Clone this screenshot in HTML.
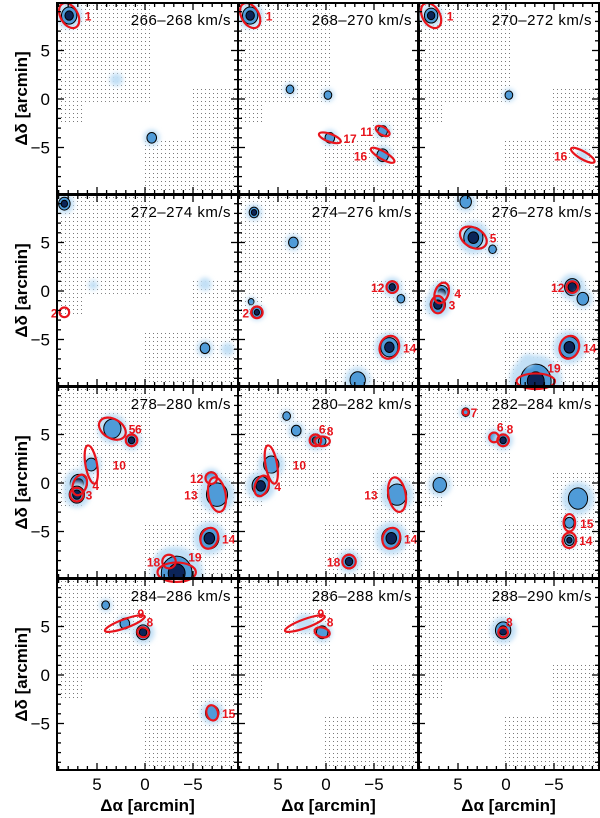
<!DOCTYPE html>
<html><head><meta charset="utf-8">
<style>
html,body{margin:0;padding:0;background:#fff;}
svg{display:block;font-family:"Liberation Sans",sans-serif;}
</style></head>
<body>
<svg id="fig" width="600" height="818" viewBox="0 0 600 818" xmlns="http://www.w3.org/2000/svg">
<defs>
<pattern id="dots" width="4" height="4" patternUnits="userSpaceOnUse"><rect x="1" y="1" width="1" height="1" fill="#7a7a7a"/></pattern>
<filter id="blur" x="-50%" y="-50%" width="200%" height="200%"><feGaussianBlur stdDeviation="2.5"/></filter>
</defs>
</svg>
<script>
// velocity ranges per panel
const velocities = ["266–268","268–270","270–272","272–274","274–276","276–278","278–280","280–282","282–284","284–286","286–288","288–290"];
// emission blobs: panel, dRA(arcmin), dDec(arcmin), size, level(1 faint,2 contour,3 core)
const blobPanel = [0,0,0, 1,1,1,1,1,1, 2,2,2, 3,3,3,3,3, 4,4,4,4,4,4,4,4, 5,5,5,5,5,5,5,5,5,5, 6,6,6,6,6,6,6,6,6,6, 7,7,7,7,7,7,7,7,7, 8,8,8,8,8,8,8, 9,9,9,9, 10,10, 11];
const blobRA    = [7.9,-0.7,3,  7.9,3.75,-0.2,-0.4,-5.9,-5.9,  7.8,-0.3,-8,  8.4,-6.25,-8.6,-6.25,5.4,  7.5,3.4,-6.9,-7.8,7.8,7.2,-6.6,-3.3,  4.2,3.4,1.4,6.7,7.1,-6.9,-8,-6.6,-3.1,-2.2,  3.4,1.4,5.6,6.9,7.1,-6.9,-7.5,-6.7,-2.5,-3.3,  4.1,3.1,1.1,0.4,5.7,6.8,-7.4,-6.8,-2.4,  4.2,1.25,0.3,6.9,-7.5,-6.6,-6.6,  4.1,2.1,0.2,-7,  2.2,0.4,  0.3];
const blobDec   = [8.6,-4,2,  8.6,1,0.4,-4,-3.3,-5.8,  8.6,0.4,-5.8,  9,-5.9,-6,0.7,0.6,  8.1,5,0.4,-0.8,-1.1,-2.2,-5.8,-9.2,  9.2,5.5,4.3,-0.2,-1.4,0.4,-0.8,-5.8,-9.3,-7.2,  5.6,4.4,1.9,-0.1,-1.2,0.5,-1.2,-5.7,-8.3,-9.3,  6.9,5.4,4.4,4.3,1.9,-0.3,-1.2,-5.7,-8.1,  7.3,4.7,4.4,-0.2,-1.6,-4.1,-5.9,  7.2,5.3,4.4,-3.9,  5.3,4.4,  4.6];
const blobLevel = [3,2,1,  3,2,2,2,2,2,  3,2,1,  3,2,1,1,1,  3,2,3,2,2,3,3,2,  2,3,2,3,3,3,2,3,3,1,  2,3,2,3,3,2,2,3,2,3,  2,2,3,2,2,3,2,3,3,  2,2,3,2,2,2,3,  2,2,3,2,  1,2,  3];
const blobSize  = [0.8,0.5,0.4, 0.8,0.4,0.4,0.5,0.5,0.6, 0.7,0.4,0.4, 0.6,0.5,0.4,0.4,0.3, 0.5,0.5,0.6,0.4,0.3,0.5,0.9,0.8, 0.6,1.0,0.4,0.7,0.8,0.8,0.6,1.0,1.6,0.4, 0.9,0.6,0.6,0.9,0.8,0.6,1.1,1.0,0.9,1.6, 0.4,0.5,0.6,0.4,0.8,0.9,1.0,1.0,0.7, 0.4,0.5,0.6,0.7,1.0,0.5,0.5, 0.4,0.5,0.7,0.7, 0.6,0.6, 0.8];
// catalogued sources (red ellipses)
const srcPanel = [0, 1,1,1,1, 2,2, 3, 4,4,4, 5,5,5,5,5,5, 6,6,6,6,6,6,6,6,6,6, 7,7,7,7,7,7,7, 8,8,8,8,8, 9,9,9, 10,10, 11];
const srcRA    = [7.9, 7.9,-0.4,-5.9,-5.9, 7.8,-8, 8.4, 7.2,-6.9,-6.6, 3.4,6.7,7.1,-6.9,-6.6,-3.1, 3.4,1.4,5.6,6.8,7.1,-6.9,-7.5,-6.7,-2.5,-3.3, 1.1,0.4,5.7,6.7,-7.4,-6.8,-2.4, 4.2,1.25,0.3,-6.6,-6.6, 2.1,0.2,-7, 2.2,0.4, 0.3];
const srcDec   = [8.6, 8.6,-4,-3.3,-5.8, 8.6,-5.8, -2.2, -2.2,0.4,-5.8, 5.5,-0.2,-1.4,0.4,-5.8,-9.3, 5.6,4.4,1.9,-0.2,-1.2,0.5,-1.2,-5.7,-8.1,-9.2, 4.4,4.3,1.9,-0.3,-1.2,-5.7,-8.1, 7.3,4.7,4.4,-4.1,-5.9, 5.3,4.4,-3.9, 5.3,4.4, 4.4];
const srcRx    = [0.9, 0.9,1.2,0.8,1.4, 0.9,1.4, 0.5, 0.6,0.6,1.0, 1.5,0.7,0.7,0.6,1.0,2.0, 1.5,0.6,0.6,0.7,0.7,0.6,0.9,0.9,0.7,2.0, 0.6,0.8,0.6,0.7,0.9,0.9,0.7, 0.3,0.5,0.6,0.6,0.7, 2.2,0.6,0.6, 2.2,0.8, 0.5];
const srcRy    = [1.4, 1.4,0.4,0.4,0.4, 1.4,0.4, 0.5, 0.6,0.6,1.2, 1.0,1.1,0.9,0.6,1.2,0.8, 1.0,0.6,2.0,1.1,0.7,0.6,1.8,1.1,0.7,1.0, 0.6,0.5,2.0,1.1,1.8,1.1,0.7, 0.3,0.5,0.6,0.9,0.8, 0.45,0.5,0.8, 0.45,0.5, 0.5];
const srcAng   = [-30, -30,20,30,30, -30,30, 0, 0,0,20, 30,20,0,0,20,0, 30,0,-10,20,0,0,-10,20,0,0, 0,0,-10,20,-10,20,0, 0,0,20,0,10, -20,15,-15, -20,15, 0];
const srcId    = ["1", "1","17","11","16", "1","16", "2", "2","12","14", "5","4","3","12","14","19", "5","6","10","4","3","12","13","14","18","19", "6","8","10","4","13","14","18", "7","6","8","15","14", "9","8","15", "9","8", "8"];
const srcSide  = ["r", "r","r","l","l", "r","l", "l", "l","l","r", "r","r","r","l","r","u", "r","u","r","r","r","l","l","r","l","u", "u","u","r","r","l","r","l", "r","u","u","r","r", "u","u","r", "u","u", "u"];
const yTicks = [-5,0,5];
const xTicks = [5,0,-5];

const NS = "http://www.w3.org/2000/svg";
const svg = document.getElementById("fig");
const colL = [57,238,418], rowT = [3,195,387,579], PW = 181, PH = 191;
const SX = 9.6, SY = 9.7;
function xPos(c, a){ return colL[c] + 88 - a*SX; }
function yPos(r, d){ return rowT[r] + 96 - d*SY; }
function mk(tag, attrs, parent){ const e=document.createElementNS(NS,tag); for(const k in attrs) e.setAttribute(k,attrs[k]); (parent||svg).appendChild(e); return e; }

const maskRects = [[9.6,9.9,-0.7,-0.3],[9.6,-0.3,6.5,-2.5],[-4.9,1.1,-9.6,-9.9],[0.3,-4.1,-4.9,-9.9]];

for(let p=0;p<12;p++){
  const c=p%3, r=Math.floor(p/3);
  const g = mk("g",{});
  
  
  const cp = mk("clipPath",{id:"cp"+p},g);
  mk("rect",{x:colL[c],y:rowT[r],width:PW,height:PH},cp);
  const inner = mk("g",{"clip-path":"url(#cp"+p+")"},g);
  maskRects.forEach(m=>{
    const x1=xPos(c,m[0]), x2=xPos(c,m[2]), y1=yPos(r,m[1]), y2=yPos(r,m[3]);
    const rr = mk("rect",{x:Math.min(x1,x2),y:Math.min(y1,y2),width:Math.abs(x2-x1),height:Math.abs(y2-y1),fill:"url(#dots)"},inner);
    
    
  });
  for(let i=0;i<blobPanel.length;i++){
    if(blobPanel[i]!==p) continue;
    const bx=xPos(c,blobRA[i]), by=yPos(r,blobDec[i]), s=blobSize[i];
    const bg = mk("g",{},inner);
    
    
    mk("ellipse",{cx:bx,cy:by,rx:s*SX*1.7,ry:s*SY*1.7,fill:"#c2e0f6",filter:"url(#blur)"},bg);
    if(blobLevel[i]>=2) mk("ellipse",{cx:bx,cy:by,rx:s*SX,ry:s*SY*1.1,fill:"#4f9bd8",stroke:"#000","stroke-width":1},bg);
    if(blobLevel[i]>=3) mk("ellipse",{cx:bx,cy:by,rx:s*SX*0.55,ry:s*SY*0.6,fill:"#0b2458",stroke:"#000","stroke-width":1},bg);
  }
  for(let i=0;i<srcPanel.length;i++){
    if(srcPanel[i]!==p) continue;
    const ex=xPos(c,srcRA[i]), ey=yPos(r,srcDec[i]);
    const rx=srcRx[i]*SX, ry=srcRy[i]*SY;
    const el = mk("ellipse",{cx:ex,cy:ey,rx:rx,ry:ry,fill:"none",stroke:"#e8141c","stroke-width":2.2,transform:`rotate(${srcAng[i]} ${ex} ${ey})`},g);
    
    
    let lx=ex+Math.max(rx,ry)+2, ly=ey+5, anchor="start";
    if(srcSide[i]==="l"){ lx=ex-Math.max(rx,ry)-2; anchor="end"; }
    if(srcSide[i]==="u"){ lx=ex+rx*0.6; ly=ey-ry-1; }
    const t = mk("text",{x:lx,y:ly,"font-size":12,"font-weight":"bold",fill:"#e8141c","text-anchor":anchor},g);
    t.textContent=srcId[i];
    
    
  }
  const vt = mk("text",{x:colL[c]+PW-7,y:rowT[r]+22,"font-size":15,fill:"#000","text-anchor":"end","letter-spacing":"0.5"},g);
  vt.textContent=velocities[p]+" km/s";
  
  
  const fr = mk("rect",{x:colL[c],y:rowT[r],width:PW,height:PH,fill:"none",stroke:"#000","stroke-width":2},g);
  
  
  for(let v=-9;v<=9;v++){
    const major = v%5===0, L = major?7:4;
    const x=xPos(c,v);
    mk("line",{x1:x,y1:rowT[r]+PH,x2:x,y2:rowT[r]+PH-L,stroke:"#000","stroke-width":1.3},g);
    mk("line",{x1:x,y1:rowT[r],x2:x,y2:rowT[r]+L,stroke:"#000","stroke-width":1.3},g);
    const y=yPos(r,v);
    if(y>rowT[r]+1 && y<rowT[r]+PH-1){
      mk("line",{x1:colL[c],y1:y,x2:colL[c]+L,y2:y,stroke:"#000","stroke-width":1.3},g);
      mk("line",{x1:colL[c]+PW,y1:y,x2:colL[c]+PW-L,y2:y,stroke:"#000","stroke-width":1.3},g);
    }
  }
  if(c===0){
    yTicks.forEach(v=>{
      const t=mk("text",{x:colL[0]-7,y:yPos(r,v)+6,"font-size":17,"text-anchor":"end"});
      t.textContent=v<0?"−"+(-v):String(v);
      
      
    });
    const yt=mk("text",{x:0,y:0,"font-size":17,"font-weight":"bold","text-anchor":"middle",transform:`translate(27 ${rowT[r]+PH/2}) rotate(-90)`});
    yt.textContent="Δδ [arcmin]";
    
    
  }
  if(r===3){
    xTicks.forEach(v=>{
      const t=mk("text",{x:xPos(c,v),y:790,"font-size":17,"text-anchor":"middle"});
      t.textContent=v<0?"−"+(-v):String(v);
      
      
    });
    const xt=mk("text",{x:colL[c]+PW/2,y:811,"font-size":17,"font-weight":"bold","text-anchor":"middle"});
    xt.textContent="Δα [arcmin]";
    
    
  }
}
</script>
</body></html>
